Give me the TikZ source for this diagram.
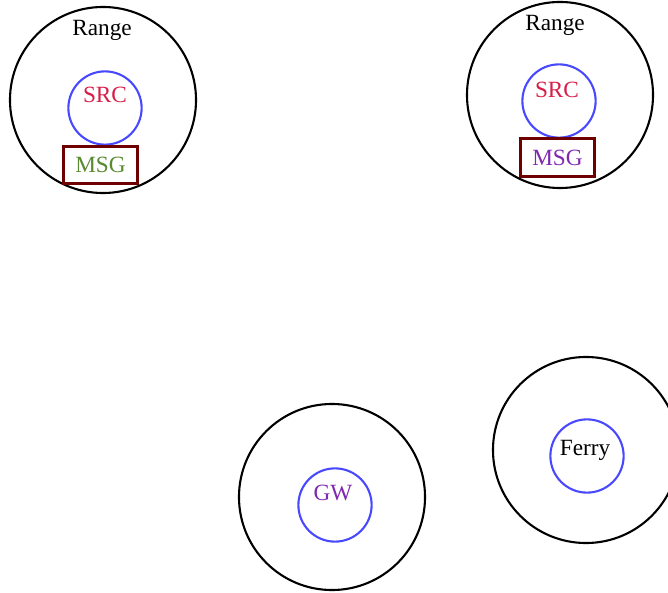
\documentclass[tikz,border=0pt]{standalone}
\usepackage{fontspec}
\setmainfont{Liberation Serif}
\usepackage{xcolor}
\usepackage{tikz}
\usetikzlibrary{positioning, shapes}

\definecolor{srcred}{RGB}{214,30,72}
\definecolor{nodeblue}{RGB}{72,72,255}
\definecolor{boxred}{RGB}{110,0,0}
\definecolor{msggreen}{RGB}{88,138,48}
\definecolor{msgpurple}{RGB}{128,40,176}

\begin{document}
\begin{tikzpicture}[x=0.43pt, y=-0.43pt]
		\tikzstyle{reach} = [draw=black, line width=0.9pt, circle, minimum size=80pt, inner sep=0pt]
		\tikzstyle{host} = [draw=nodeblue, line width=0.9pt, circle, minimum size=31.5pt, inner sep=0pt]
		\tikzstyle{msg} = [draw=boxred, line width=1.3pt, rectangle, minimum width=32pt, minimum height=16.3pt, inner sep=0pt, font=\normalsize]
		\tikzstyle{invis} = [draw=none, inner sep=0pt, font=\normalsize]
		
		\useasboundingbox (0,0) rectangle (668,593);
		
		% source with a green message
		\node[reach] 	at (103, 100)	(r1) 	{};
		\node[invis] 	at (102, 30)	(t1) 	{Range};
		\node[host] 	at (105, 108)	(s1) 	{};
		\node[invis, text=srcred] 	at (105, 95)	(l1) 	{SRC};
		\node[msg, text=msggreen] 	at (100.5, 165)	(m1) 	{MSG};
		
		% source with a purple message
		\node[reach] 	at (560, 95)	(r2) 	{};
		\node[invis] 	at (555, 25)	(t2) 	{Range};
		\node[host] 	at (559, 101)	(s2) 	{};
		\node[invis, text=srcred] 	at (557, 90)	(l2) 	{SRC};
		\node[msg, text=msgpurple] 	at (557.5, 157.5)	(m2) 	{MSG};
		
		% gateway
		\node[reach] 	at (332, 497)	(r3) 	{};
		\node[host] 	at (335, 505)	(gw) 	{};
		\node[invis, text=msgpurple] 	at (333, 493)	(l3) 	{GW};
		
		% ferry
		\node[reach] 	at (586, 450)	(r4) 	{};
		\node[host] 	at (587, 456)	(fe) 	{};
		\node[invis] 	at (585, 450)	(l4) 	{Ferry};
	\end{tikzpicture}
\end{document}
